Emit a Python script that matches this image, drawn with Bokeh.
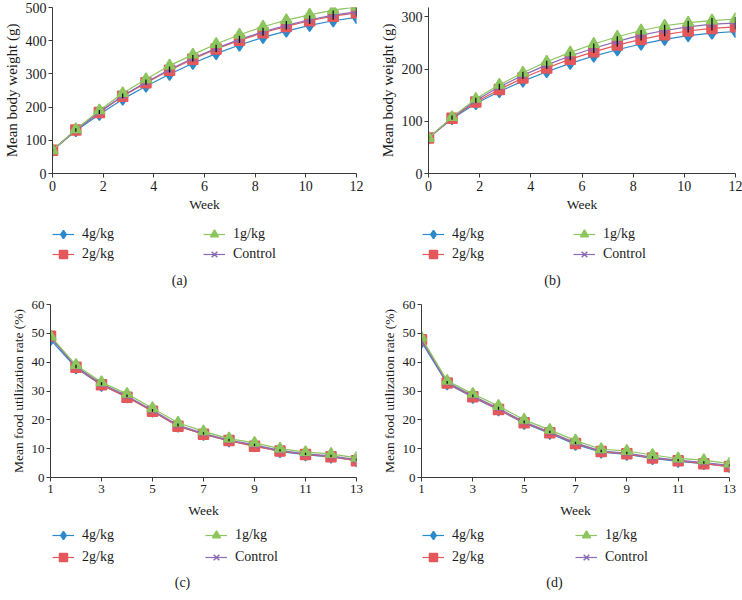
from bokeh.plotting import figure
from bokeh.models import Range1d, FixedTicker, Legend, LegendItem, Label, ColumnDataSource
from bokeh.layouts import column, row
from bokeh.embed import file_html
from bokeh.resources import INLINE

FONT = "Liberation Serif"

# ---------------- data ----------------
groups = ["4g/kg", "2g/kg", "1g/kg", "Control"]
colors = ["#2B8ACB", "#E4585B", "#8DC55E", "#8A6BB5"]
markers = ["diamond", "square", "triangle", "x"]
marker_sizes = [12, 10, 11, 9]

# body weight panels: 14 weekly points spread over a 0-12 axis
weight_weeks = [0, 0.92, 1.85, 2.77, 3.69, 4.62, 5.54, 6.46, 7.38, 8.31, 9.23, 10.15, 11.08, 12]
a_4g = [70, 129, 178, 224, 263, 299, 332, 361, 387, 410, 429, 446, 460, 470]
a_2g = [70, 131, 184, 233, 273, 311, 344, 375, 401, 424, 443, 460, 474, 484]
a_1g = [70, 133, 190, 242, 284, 325, 358, 390, 418, 442, 462, 478, 492, 502]
a_ctrl = [70, 131, 185, 234, 275, 313, 347, 377, 404, 427, 446, 463, 477, 487]
a_sd = [4, 5, 6, 7, 8, 9, 10, 11, 11, 12, 13, 13, 14, 14]

b_4g = [68, 105, 134, 157, 177, 195, 211, 225, 237, 248, 257, 264, 269, 272]
b_2g = [68, 106, 137, 161, 183, 202, 219, 233, 246, 257, 266, 273, 278, 281]
b_1g = [68, 108, 143, 170, 193, 214, 232, 248, 262, 274, 283, 289, 293, 296]
b_ctrl = [68, 107, 140, 166, 188, 208, 225, 240, 253, 265, 274, 281, 286, 288]
b_sd = [3, 4, 5, 6, 7, 8, 8, 9, 10, 10, 11, 11, 12, 12]

# food utilization panels: weeks 1-13
food_weeks = [1, 2, 3, 4, 5, 6, 7, 8, 9, 10, 11, 12, 13]
c_4g = [47.8, 38.0, 32.0, 28.0, 23.0, 17.8, 15.0, 12.7, 11.0, 9.0, 7.9, 7.1, 5.8]
c_2g = [49.0, 38.2, 32.2, 27.8, 23.0, 17.8, 15.0, 12.8, 10.8, 9.2, 8.0, 7.2, 5.8]
c_1g = [49.0, 39.0, 33.0, 29.0, 24.0, 19.0, 16.0, 13.5, 12.0, 10.0, 8.8, 8.2, 6.8]
c_ctrl = [48.5, 38.5, 32.5, 28.3, 23.3, 18.2, 15.3, 13.0, 11.3, 9.4, 8.2, 7.5, 6.2]
c_sd = [0.6, 0.6, 0.5, 0.5, 0.5, 0.5, 0.4, 0.4, 0.4, 0.4, 0.4, 0.4, 0.4]

d_4g = [47.0, 32.5, 27.8, 23.5, 18.8, 15.3, 11.5, 8.8, 8.0, 6.6, 5.6, 4.8, 3.8]
d_2g = [47.8, 32.8, 28.0, 23.6, 19.0, 15.5, 11.8, 9.0, 8.2, 6.8, 5.8, 4.8, 3.8]
d_1g = [48.5, 33.5, 29.0, 24.8, 20.0, 16.5, 12.8, 9.8, 9.2, 7.8, 6.6, 6.0, 4.8]
d_ctrl = [47.5, 33.0, 28.3, 24.0, 19.3, 15.8, 12.0, 9.2, 8.5, 7.0, 6.0, 5.2, 4.2]
d_sd = [0.6, 0.5, 0.5, 0.5, 0.5, 0.4, 0.4, 0.4, 0.4, 0.4, 0.4, 0.4, 0.4]

weight_xticks = [0, 2, 4, 6, 8, 10, 12]
food_xticks = [1, 3, 5, 7, 9, 11, 13]
a_yticks = [0, 100, 200, 300, 400, 500]
b_yticks = [0, 100, 200, 300]
food_yticks = [0, 10, 20, 30, 40, 50, 60]


def add_series(p, xs, series):
    items = {}
    for i in [0, 1, 3, 2]:
        ys = series[i]
        ln = p.line(xs, ys, line_color=colors[i], line_width=1.2)
        mk = p.scatter(xs, ys, marker=markers[i], size=marker_sizes[i],
                       fill_color=colors[i], line_color=colors[i], line_width=1.5)
        items[i] = LegendItem(label=groups[i], renderers=[ln, mk])
    return [items[0], items[1], items[2], items[3]]


def make_panel(xs, series, sd, xr, yr, xticks, yticks, ylabel,
               w, h, left, right, top, bottom, tick_fs, ylab_fs, week_standoff):
    p = figure(width=w, height=h, x_range=Range1d(*xr), y_range=Range1d(*yr),
               output_backend="svg", toolbar_location=None,
               min_border_left=left, min_border_right=right,
               min_border_top=top, min_border_bottom=bottom)
    p.title.visible = False
    p.outline_line_color = None
    p.xgrid.visible = False
    p.ygrid.visible = False
    for ax, ticks in ((p.xaxis[0], xticks), (p.yaxis[0], yticks)):
        ax.ticker = FixedTicker(ticks=ticks)
        ax.minor_tick_line_color = None
        ax.major_tick_in = 0
        ax.major_tick_out = 4
        ax.major_label_standoff = 3
        ax.axis_line_color = "#3a3a3a"
        ax.major_tick_line_color = "#3a3a3a"
        ax.major_label_text_font = FONT
        ax.major_label_text_font_size = tick_fs
        ax.major_label_text_color = "#1a1a1a"
        ax.axis_label_text_font = FONT
        ax.axis_label_text_font_style = "normal"
        ax.axis_label_text_color = "#1a1a1a"
    p.xaxis.axis_label = "Week"
    p.xaxis.axis_label_text_font_size = "13.5px"
    p.xaxis.axis_label_standoff = week_standoff
    p.yaxis.axis_label = ylabel
    p.yaxis.axis_label_text_font_size = ylab_fs
    p.yaxis.axis_label_standoff = 3
    p.yaxis.major_label_standoff = 2

    add_series(p, xs, series)
    ctrl = series[3]
    src = ColumnDataSource(dict(x=xs, lo=[v - s for v, s in zip(ctrl, sd)],
                                hi=[v + s for v, s in zip(ctrl, sd)]))
    p.segment(x0="x", y0="lo", x1="x", y1="hi", source=src,
              line_color="#111111", line_width=1.3)
    return p


def make_legend_fig(xs, series, caption, w, h, leg_x, leg_y, row_gap, cap_x, cap_y):
    # the series are drawn here only to supply legend glyphs; the 0-1 ranges keep them out of view
    q = figure(width=w, height=h, x_range=Range1d(0, 1), y_range=Range1d(0, 1),
               x_axis_type=None, y_axis_type=None, output_backend="svg",
               toolbar_location=None, min_border_left=0, min_border_right=0,
               min_border_top=0, min_border_bottom=0)
    q.title.visible = False
    q.outline_line_color = None
    items = add_series(q, xs, series)
    legend = Legend(items=items, ncols=2, nrows=2, location=(leg_x, leg_y))
    legend.margin = 0
    legend.padding = 0
    legend.spacing = row_gap
    legend.glyph_width = 22
    legend.glyph_height = 20
    legend.label_standoff = 8
    legend.label_width = 121
    legend.label_height = 14
    legend.label_text_font = FONT
    legend.label_text_font_size = "14px"
    legend.label_text_color = "#1a1a1a"
    legend.border_line_color = None
    legend.background_fill_alpha = 0
    q.add_layout(legend, "center")
    lab = Label(x=cap_x, y=cap_y, x_units="screen", y_units="screen", text=caption,
                text_align="center", text_baseline="middle", text_font=FONT,
                text_font_size="14px", text_color="#1a1a1a")
    q.add_layout(lab)
    return q


pa = make_panel(weight_weeks, [a_4g, a_2g, a_1g, a_ctrl], a_sd, (0, 12), (0, 500),
                weight_xticks, a_yticks, "Mean body weight (g)",
                370, 215, 50, 14, 7, 42, "14px", "15px", 3)
pb = make_panel(weight_weeks, [b_4g, b_2g, b_1g, b_ctrl], b_sd, (0, 12), (0, 318),
                weight_xticks, b_yticks, "Mean body weight (g)",
                372, 215, 58, 7, 7, 42, "14px", "15px", 3)
pc = make_panel(food_weeks, [c_4g, c_2g, c_1g, c_ctrl], c_sd, (1, 13), (0, 60),
                food_xticks, food_yticks, "Mean food utilization rate (%)",
                370, 227, 50, 14, 8, 46, "13px", "13.5px", 7)
pd = make_panel(food_weeks, [d_4g, d_2g, d_1g, d_ctrl], d_sd, (1, 13), (0, 60),
                food_xticks, food_yticks, "Mean food utilization rate (%)",
                372, 227, 51, 13, 8, 46, "13px", "13.5px", 7)

la = make_legend_fig(weight_weeks, [a_4g, a_2g, a_1g, a_ctrl], "(a)", 370, 81, 52, 32, 0, 179, 16)
lb = make_legend_fig(weight_weeks, [b_4g, b_2g, b_1g, b_ctrl], "(b)", 372, 81, 52, 32, 0, 182, 16)
lc = make_legend_fig(food_weeks, [c_4g, c_2g, c_1g, c_ctrl], "(c)", 370, 77, 52, 33, 2, 182, 18)
ld = make_legend_fig(food_weeks, [d_4g, d_2g, d_1g, d_ctrl], "(d)", 372, 77, 52, 33, 2, 184, 18)

layout = column(row(pa, pb, spacing=0), row(la, lb, spacing=0),
                row(pc, pd, spacing=0), row(lc, ld, spacing=0), spacing=0)
open("out.html", "w").write(file_html(layout, INLINE))
